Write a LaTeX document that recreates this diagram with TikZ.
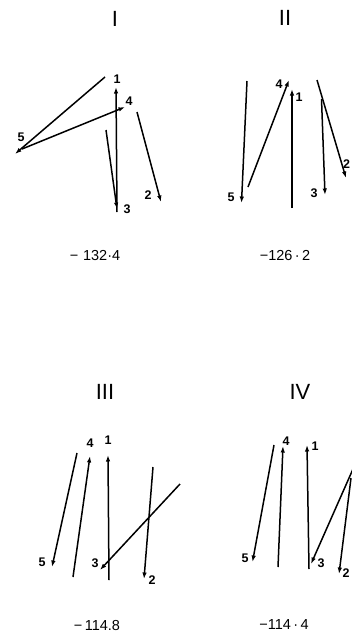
\documentclass[tikz,border=0pt]{standalone}
\usepackage{fontspec}
\setmainfont{Liberation Sans}
\usepackage{tikz}
\usetikzlibrary{arrows.meta}
\tikzstyle{vec} = [line width=1.5pt, -{Latex[length=6.5pt,width=4.5pt]}]
\tikzstyle{num} = [inner sep=0pt, font=\bfseries\fontsize{12.5}{13}\selectfont]
\tikzstyle{title} = [inner sep=0pt, font=\fontsize{22}{22}\selectfont]
\tikzstyle{energy} = [inner sep=0pt, font=\fontsize{14.5}{15}\selectfont]

\begin{document}
\begin{tikzpicture}[x=1pt, y=-1pt]
                    \useasboundingbox (0,0) rectangle (351,634);

                    % panel I
                    \node[title] (tI) at (115,19) {I};
                    \coordinate (I5a) at (105,77);   \coordinate (I5b) at (15,154);
                    \coordinate (I4a) at (22,149);   \coordinate (I4b) at (125,107);
                    \coordinate (I1a) at (117,212);  \coordinate (I1b) at (116,87);
                    \coordinate (I3a) at (106,130);  \coordinate (I3b) at (117,209);
                    \coordinate (I2a) at (137,112);  \coordinate (I2b) at (161,202);
                    \draw[vec] (I5a) -- (I5b);
                    \draw[vec] (I4a) -- (I4b);
                    \draw[vec] (I1a) -- (I1b);
                    \draw[vec] (I3a) -- (I3b);
                    \draw[vec] (I2a) -- (I2b);
                    \node[num] (nI1) at (117,79) {1};
                    \node[num] (nI4) at (129,101) {4};
                    \node[num] (nI5) at (21,137) {5};
                    \node[num] (nI3) at (127,209) {3};
                    \node[num] (nI2) at (148,195) {2};
                    \node[energy] (eI) at (95,256) {−\,\,132·4};

                    % panel II
                    \node[title] (tII) at (285,18) {II};
                    \coordinate (II5a) at (247,81);  \coordinate (II5b) at (241.5,203);
                    \coordinate (II4a) at (248,187); \coordinate (II4b) at (289,80);
                    \coordinate (II1a) at (292,208); \coordinate (II1b) at (292,89);
                    \coordinate (II3a) at (321.5,99);\coordinate (II3b) at (325,195);
                    \coordinate (II2a) at (317,80);  \coordinate (II2b) at (346,178);
                    \draw[vec] (II5a) -- (II5b);
                    \draw[vec] (II4a) -- (II4b);
                    \draw[vec] (II1a) -- (II1b);
                    \draw[vec] (II3a) -- (II3b);
                    \draw[vec] (II2a) -- (II2b);
                    \node[num] (nII5) at (231,197) {5};
                    \node[num] (nII4) at (279,84) {4};
                    \node[num] (nII1) at (299,97) {1};
                    \node[num] (nII3) at (314,193) {3};
                    \node[num] (nII2) at (346.5,164) {2};
                    \node[energy] (eII) at (285,256) {−126\,·\,2};

                    % panel III
                    \node[title] (tIII) at (105,392) {III};
                    \coordinate (III5a) at (77,453);  \coordinate (III5b) at (52,567);
                    \coordinate (III4a) at (73,577);  \coordinate (III4b) at (90,456);
                    \coordinate (III1a) at (109,580); \coordinate (III1b) at (108,455);
                    \coordinate (III3a) at (180,484); \coordinate (III3b) at (100,570);
                    \coordinate (III2a) at (153,467); \coordinate (III2b) at (144,579);
                    \draw[vec] (III5a) -- (III5b);
                    \draw[vec] (III4a) -- (III4b);
                    \draw[vec] (III1a) -- (III1b);
                    \draw[vec] (III3a) -- (III3b);
                    \draw[vec] (III2a) -- (III2b);
                    \node[num] (nIII5) at (42,562) {5};
                    \node[num] (nIII4) at (90,443) {4};
                    \node[num] (nIII1) at (108,440) {1};
                    \node[num] (nIII3) at (95,563) {3};
                    \node[num] (nIII2) at (152,580) {2};
                    \node[energy] (eIII) at (97,625) {−\,114.8};

                    % panel IV
                    \node[title] (tIV) at (300,392) {IV};
                    \coordinate (IV5a) at (274,445); \coordinate (IV5b) at (252.5,562);
                    \coordinate (IV4a) at (278,567); \coordinate (IV4b) at (283,446);
                    \coordinate (IV1a) at (309,569); \coordinate (IV1b) at (307,445);
                    \coordinate (IV3a) at (353,469); \coordinate (IV3b) at (311,564);
                    \coordinate (IV2a) at (351,478); \coordinate (IV2b) at (339,574);
                    \draw[vec] (IV5a) -- (IV5b);
                    \draw[vec] (IV4a) -- (IV4b);
                    \draw[vec] (IV1a) -- (IV1b);
                    \draw[vec] (IV3a) -- (IV3b);
                    \draw[vec] (IV2a) -- (IV2b);
                    \node[num] (nIV5) at (245,558) {5};
                    \node[num] (nIV4) at (286,441) {4};
                    \node[num] (nIV1) at (315,446) {1};
                    \node[num] (nIV3) at (321,563) {3};
                    \node[num] (nIV2) at (346,573) {2};
                    \node[energy] (eIV) at (284,625) {−114\,·\,4};
                \end{tikzpicture}
\end{document}
